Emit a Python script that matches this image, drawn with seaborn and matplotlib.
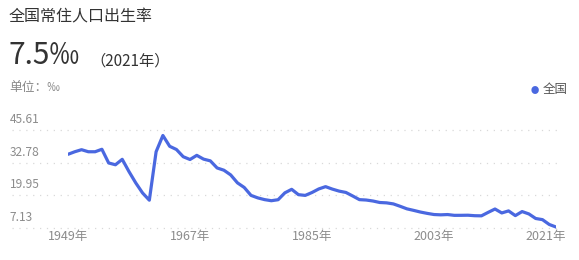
import matplotlib
matplotlib.use("Agg")
import matplotlib.pyplot as plt
import matplotlib.transforms as mtransforms
import seaborn as sns
import pandas as pd

# ---- data ----
years = list(range(1949, 2022))
birth_rate = [
    36.00, 37.00, 37.80, 37.00, 37.00, 37.97, 32.60, 31.90, 34.03, 29.22,
    24.78, 20.86, 18.02, 37.01, 43.37, 39.14, 37.88, 35.05, 33.96, 35.59,
    34.11, 33.43, 30.65, 29.77, 27.93, 24.82, 23.01, 19.91, 18.93, 18.25,
    17.82, 18.21, 20.91, 22.28, 20.19, 19.90, 21.04, 22.43, 23.33, 22.37,
    21.58, 21.06, 19.68, 18.24, 18.09, 17.70, 17.12, 16.98, 16.57, 15.64,
    14.64, 14.03, 13.38, 12.86, 12.41, 12.29, 12.40, 12.09, 12.10, 12.14,
    11.95, 11.90, 13.27, 14.57, 13.03, 13.83, 11.99, 13.57, 12.64, 10.86,
    10.41, 8.52, 7.52,
]
y_ticks = [45.61, 32.78, 19.95, 7.13]
x_ticks = [1949, 1967, 1985, 2003, 2021]
series_name = "全国"
title = "全国常住人口出生率"
headline = "7.5‰"
headline_note = "（2021年）"
unit_text = "单位：‰"

df = pd.DataFrame({"year": years, "rate": birth_rate, "region": series_name})

sns.set_theme(style="white")
plt.rcParams["font.family"] = ["Noto Sans CJK SC", "DejaVu Sans"]

LINE = "#4a68e0"
W, H = 579, 260
fig = plt.figure(figsize=(W / 100, H / 100), dpi=100)
fig.patch.set_facecolor("white")

ax = fig.add_axes([68 / W, (H - 236) / H, 488 / W, 120 / H])
sns.lineplot(data=df, x="year", y="rate", ax=ax, color=LINE, linewidth=2.3,
             legend=False, solid_joinstyle="round", solid_capstyle="round")
ax.set_xlim(1949, 2021)
ax.set_ylim(4.0, 51.0)
for s in ax.spines.values():
    s.set_visible(False)
ax.set_xticks([])
ax.set_yticks([])
ax.set_xlabel("")
ax.set_ylabel("")
ax.patch.set_alpha(0)

# grid lines and y labels
blend_y = mtransforms.blended_transform_factory(ax.transAxes, ax.transData)
lab_tr = mtransforms.offset_copy(blend_y, fig=fig, y=10.5, units="dots")
for t in y_ticks:
    ax.axhline(t, xmin=-0.115, xmax=1.003, color="#d9d9d9", lw=0.9,
               ls=(0, (1, 4.5)), clip_on=False, zorder=0)
    ax.text(-0.119, t, f"{t:.2f}", transform=lab_tr, ha="left", va="center",
            fontsize=8.6, color="#8c8c8c")

# x labels
blend_x = mtransforms.blended_transform_factory(ax.transData, ax.transAxes)
for i, yr in enumerate(x_ticks):
    tr = blend_x
    if i == len(x_ticks) - 1:
        tr = mtransforms.offset_copy(blend_x, fig=fig, x=-10, units="dots")
    ax.text(yr, -0.008, f"{yr}年", transform=tr, ha="center", va="center",
            fontsize=9, color="#8c8c8c")

# header texts
fig.text(9 / W, 1 - 17 / H, title, ha="left", va="center", fontsize=11.5, color="#333333")
fig.text(8 / W, 1 - 56 / H, headline, ha="left", va="center", fontsize=21.5, color="#333333")
fig.text(90 / W, 1 - 61 / H, headline_note, ha="left", va="center", fontsize=11, color="#333333")
fig.text(9 / W, 1 - 88 / H, unit_text, ha="left", va="center", fontsize=9.2, color="#8a8a8a")

# legend
fig.text(535 / W, 1 - 90 / H, "●", ha="center", va="center", fontsize=6, color=LINE)
fig.text(543 / W, 1 - 89 / H, series_name, ha="left", va="center", fontsize=9, color="#555555")

fig.savefig("out.png", dpi=100)
